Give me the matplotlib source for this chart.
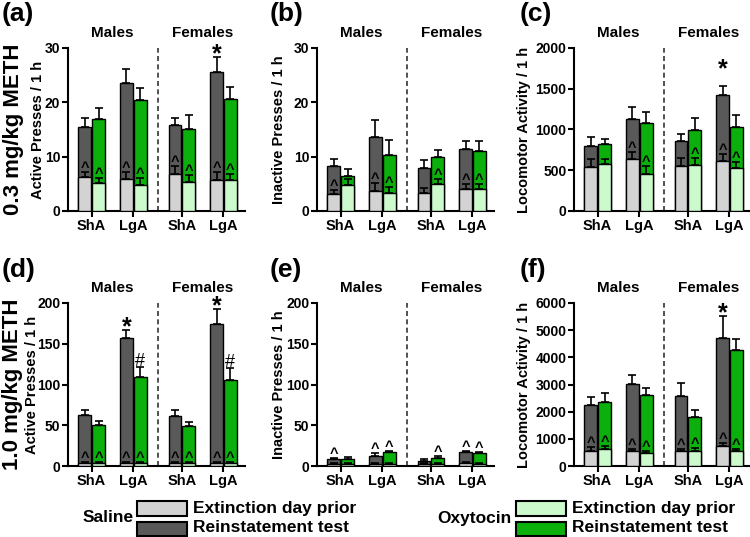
import numpy as np
import matplotlib.pyplot as plt
from matplotlib.patches import Rectangle

plt.rcParams['font.family'] = ['Liberation Sans', 'DejaVu Sans']
plt.rcParams['font.weight'] = 'bold'
plt.rcParams['axes.linewidth'] = 1.5

# bar order: ShA males, LgA males, ShA females, LgA females
tick_labels = ['ShA', 'LgA', 'ShA', 'LgA']
xpos = np.array([0, 1, 2.17, 3.17])

# (a) active presses, 0.3 mg/kg
a_sal_ext = [6.2, 5.8, 6.9, 5.7]
a_sal_ext_err = [1.0, 1.3, 1.3, 1.4]
a_sal_rein = [15.4, 23.6, 15.8, 25.6]
a_sal_rein_err = [1.7, 2.5, 1.4, 2.7]
a_oxt_ext = [5.1, 4.8, 5.3, 5.7]
a_oxt_ext_err = [1.0, 1.2, 1.4, 1.2]
a_oxt_rein = [17.0, 20.5, 15.0, 20.6]
a_oxt_rein_err = [2.0, 2.1, 2.6, 2.2]

# (b) inactive presses, 0.3 mg/kg
b_sal_ext = [3.1, 3.7, 3.3, 4.0]
b_sal_ext_err = [0.8, 1.4, 1.0, 1.0]
b_sal_rein = [8.3, 13.7, 7.9, 11.5]
b_sal_rein_err = [1.3, 3.0, 1.4, 1.3]
b_oxt_ext = [4.8, 3.4, 4.9, 4.0]
b_oxt_ext_err = [1.1, 1.1, 1.0, 1.0]
b_oxt_rein = [6.5, 10.3, 10.0, 11.0]
b_oxt_rein_err = [1.2, 2.8, 1.2, 1.9]

# (c) locomotor activity, 0.3 mg/kg
c_sal_ext = [543, 641, 555, 616]
c_sal_ext_err = [90, 86, 90, 82]
c_sal_rein = [796, 1131, 857, 1420]
c_sal_rein_err = [114, 151, 86, 119]
c_oxt_ext = [576, 453, 567, 527]
c_oxt_ext_err = [65, 98, 82, 73]
c_oxt_rein = [820, 1078, 988, 1029]
c_oxt_rein_err = [66, 142, 159, 147]

# (d) active presses, 1.0 mg/kg
d_sal_ext = [4.0, 4.0, 4.0, 4.0]
d_sal_ext_err = [1.5, 1.5, 1.5, 1.5]
d_sal_rein = [63.0, 157.0, 61.6, 174.0]
d_sal_rein_err = [5.6, 10.0, 7.0, 18.6]
d_oxt_ext = [3.5, 3.5, 3.5, 3.5]
d_oxt_ext_err = [1.5, 1.5, 1.5, 1.5]
d_oxt_rein = [49.7, 109.7, 48.5, 105.5]
d_oxt_rein_err = [5.7, 11.3, 5.7, 14.5]

# (e) inactive presses, 1.0 mg/kg
e_sal_ext = [3.0, 3.0, 3.0, 4.0]
e_sal_ext_err = [1.0, 1.0, 1.0, 1.0]
e_sal_rein = [8.5, 12.7, 6.6, 17.2]
e_sal_rein_err = [1.5, 2.9, 2.4, 1.3]
e_oxt_ext = [3.0, 3.0, 3.0, 3.0]
e_oxt_ext_err = [1.0, 1.0, 1.0, 1.0]
e_oxt_rein = [9.0, 16.8, 9.4, 15.6]
e_oxt_rein_err = [1.5, 1.2, 2.6, 1.4]

# (f) locomotor activity, 1.0 mg/kg
f_sal_ext = [563, 539, 563, 734]
f_sal_ext_err = [135, 98, 74, 98]
f_sal_rein = [2228, 3024, 2559, 4713]
f_sal_rein_err = [306, 343, 490, 797]
f_oxt_ext = [637, 465, 563, 551]
f_oxt_ext_err = [97, 98, 98, 86]
f_oxt_rein = [2362, 2620, 1800, 4260]
f_oxt_rein_err = [318, 245, 245, 416]

# ^ markers (1 = shown) and significance symbols
a_sal_caret, a_oxt_caret = [1, 1, 1, 1], [1, 1, 1, 1]
b_sal_caret, b_oxt_caret = [1, 1, 0, 1], [0, 1, 1, 1]
c_sal_caret, c_oxt_caret = [0, 1, 0, 1], [0, 1, 1, 1]
d_sal_caret, d_oxt_caret = [1, 1, 1, 1], [1, 1, 1, 1]
e_sal_caret, e_oxt_caret = [1, 1, 0, 1], [0, 1, 1, 1]
f_sal_caret, f_oxt_caret = [1, 1, 1, 1], [1, 1, 1, 1]

a_sal_sig, a_oxt_sig = ['', '', '', '*'], ['', '', '', '']
b_sal_sig, b_oxt_sig = ['', '', '', ''], ['', '', '', '']
c_sal_sig, c_oxt_sig = ['', '', '', '*'], ['', '', '', '']
d_sal_sig, d_oxt_sig = ['', '*', '', '*'], ['', '#', '', '#']
e_sal_sig, e_oxt_sig = ['', '', '', ''], ['', '', '', '']
f_sal_sig, f_oxt_sig = ['', '', '', '*'], ['', '', '', '']

SAL_EXT, SAL_REIN = '#d3d3d3', '#595959'
OXT_EXT, OXT_REIN = '#ccfacc', '#0cb00c'
BW = 0.31
OFF = 0.165


def draw_pair(ax, x, ext, ext_err, rein, rein_err, c_ext, c_rein):
    zeros = np.zeros(len(x))
    ax.bar(x, rein, BW, color=c_rein, edgecolor='black', linewidth=1.0, zorder=2)
    ax.errorbar(x, rein, yerr=[zeros, rein_err], fmt='none', ecolor='black',
                elinewidth=1.2, capsize=3, capthick=1.2, zorder=3)
    ax.bar(x, ext, BW, color=c_ext, edgecolor='black', linewidth=1.0, zorder=4)
    ax.errorbar(x, ext, yerr=[zeros, ext_err], fmt='none', ecolor='black',
                elinewidth=1.2, capsize=3, capthick=1.2, zorder=5)


def panel(ax, ymax, ystep, ylabel, ylab_x, sal, oxt, carets, sigs,
          caret_on_rein=False, star_pad=-4):
    xs = xpos - OFF
    xo = xpos + OFF
    draw_pair(ax, xs, *sal, SAL_EXT, SAL_REIN)
    draw_pair(ax, xo, *oxt, OXT_EXT, OXT_REIN)

    for xx, data, car, sig in [(xs, sal, carets[0], sigs[0]), (xo, oxt, carets[1], sigs[1])]:
        ext, ext_err, rein, rein_err = [np.array(v) for v in data]
        base = rein + rein_err if caret_on_rein else ext + ext_err
        for i in range(4):
            if car[i]:
                ax.annotate('^', (xx[i], base[i]), xytext=(0, 0), textcoords='offset points',
                            ha='center', va='baseline', fontsize=10.5, zorder=6)
            if sig[i] == '*':
                ax.annotate('*', (xx[i], rein[i] + rein_err[i]), xytext=(0, star_pad),
                            textcoords='offset points', ha='center', va='baseline',
                            fontsize=18, zorder=6)
            elif sig[i] == '#':
                ax.annotate('#', (xx[i], rein[i] + rein_err[i]), xytext=(0, 1),
                            textcoords='offset points', ha='center', va='baseline',
                            fontsize=13, fontweight='normal', zorder=6)

    ax.axvline((xpos[1] + xpos[2]) / 2, color='#333333', lw=1.2, ls=(0, (3, 2)), zorder=1)
    ax.set_xlim(-0.57, 3.69)
    ax.set_ylim(0, ymax)
    ax.set_yticks(np.arange(0, ymax + 1, ystep))
    ax.set_xticks(xpos)
    ax.set_xticklabels(tick_labels)
    ax.tick_params(direction='out', length=4, width=1.5, labelsize=10, pad=1.5)
    ax.tick_params(axis='x', labelsize=10.5, pad=2)
    ax.spines['top'].set_visible(False)
    ax.spines['right'].set_visible(False)
    ax.set_ylabel(ylabel, fontsize=10.5, fontweight='bold')
    ax.yaxis.set_label_coords(ylab_x, 0.5)
    tr = ax.get_xaxis_transform()
    ax.text((xpos[0] + xpos[1]) / 2, 1.092, 'Males', transform=tr, ha='center',
            va='center', fontsize=11)
    ax.text((xpos[2] + xpos[3]) / 2, 1.092, 'Females', transform=tr, ha='center',
            va='center', fontsize=11)


fig = plt.figure(figsize=(7.5, 5.37), dpi=100)
W, H = 750, 537
aw, ah = 177 / W, 163 / H
row_bottoms = [1 - 211 / H, 1 - 466 / H]
lefts = [68, 317, 574]
# right edge (px) of the rotated y-label, per row and column
ylab_right = [[45, 286, 531], [39, 286, 531]]

specs = [
    ('(a)', 30, 10, 'Active Presses / 1 h',
     (a_sal_ext, a_sal_ext_err, a_sal_rein, a_sal_rein_err),
     (a_oxt_ext, a_oxt_ext_err, a_oxt_rein, a_oxt_rein_err),
     (a_sal_caret, a_oxt_caret), (a_sal_sig, a_oxt_sig), False, -3),
    ('(b)', 30, 10, 'Inactive Presses / 1 h',
     (b_sal_ext, b_sal_ext_err, b_sal_rein, b_sal_rein_err),
     (b_oxt_ext, b_oxt_ext_err, b_oxt_rein, b_oxt_rein_err),
     (b_sal_caret, b_oxt_caret), (b_sal_sig, b_oxt_sig), False, -3),
    ('(c)', 2000, 500, 'Locomotor Activity / 1 h',
     (c_sal_ext, c_sal_ext_err, c_sal_rein, c_sal_rein_err),
     (c_oxt_ext, c_oxt_ext_err, c_oxt_rein, c_oxt_rein_err),
     (c_sal_caret, c_oxt_caret), (c_sal_sig, c_oxt_sig), False, 7),
    ('(d)', 200, 50, 'Active Presses / 1 h',
     (d_sal_ext, d_sal_ext_err, d_sal_rein, d_sal_rein_err),
     (d_oxt_ext, d_oxt_ext_err, d_oxt_rein, d_oxt_rein_err),
     (d_sal_caret, d_oxt_caret), (d_sal_sig, d_oxt_sig), False, -3),
    ('(e)', 200, 50, 'Inactive Presses / 1 h',
     (e_sal_ext, e_sal_ext_err, e_sal_rein, e_sal_rein_err),
     (e_oxt_ext, e_oxt_ext_err, e_oxt_rein, e_oxt_rein_err),
     (e_sal_caret, e_oxt_caret), (e_sal_sig, e_oxt_sig), True, -3),
    ('(f)', 6000, 1000, 'Locomotor Activity / 1 h',
     (f_sal_ext, f_sal_ext_err, f_sal_rein, f_sal_rein_err),
     (f_oxt_ext, f_oxt_ext_err, f_oxt_rein, f_oxt_rein_err),
     (f_sal_caret, f_oxt_caret), (f_sal_sig, f_oxt_sig), False, -3),
]

letter_x = [2 / W, 270 / W, 520 / W]
letter_y = [1 - 2 / H, 1 - 258 / H]
for k, (letter, ymax, ystep, ylab, sal, oxt, car, sig, on_rein, spad) in enumerate(specs):
    r, c = divmod(k, 3)
    ax = fig.add_axes([lefts[c] / W, row_bottoms[r], aw, ah])
    lx = (ylab_right[r][c] - lefts[c]) / 177
    panel(ax, ymax, ystep, ylab, lx, sal, oxt, car, sig, on_rein, spad)
    fig.text(letter_x[c], letter_y[r], letter, fontsize=19, ha='left', va='top')

fig.text(14 / W, row_bottoms[0] + ah / 2, '0.3 mg/kg METH', rotation=90,
         ha='center', va='center', fontsize=16)
fig.text(13 / W, row_bottoms[1] + ah / 2, '1.0 mg/kg METH', rotation=90,
         ha='center', va='center', fontsize=16)


# legend
def legend_block(label, label_right, patch_left, c_ext, c_rein):
    fig.text(label_right / W, 1 - 518 / H, label, ha='right', va='center', fontsize=12.5)
    fig.add_artist(Rectangle((patch_left / W, 1 - 516 / H), 50 / W, 15 / H,
                             facecolor=c_ext, edgecolor='black', lw=1.5,
                             transform=fig.transFigure))
    fig.add_artist(Rectangle((patch_left / W, 1 - 536 / H), 50 / W, 14 / H,
                             facecolor=c_rein, edgecolor='black', lw=1.5,
                             transform=fig.transFigure))
    fig.text((patch_left + 56) / W, 1 - 508 / H, 'Extinction day prior', ha='left',
             va='center', fontsize=12.5)
    fig.text((patch_left + 56) / W, 1 - 528 / H, 'Reinstatement test', ha='left',
             va='center', fontsize=12.5)


legend_block('Saline', 134, 137, SAL_EXT, SAL_REIN)
legend_block('Oxytocin', 512, 516, OXT_EXT, OXT_REIN)

fig.savefig('out.png', dpi=100)
